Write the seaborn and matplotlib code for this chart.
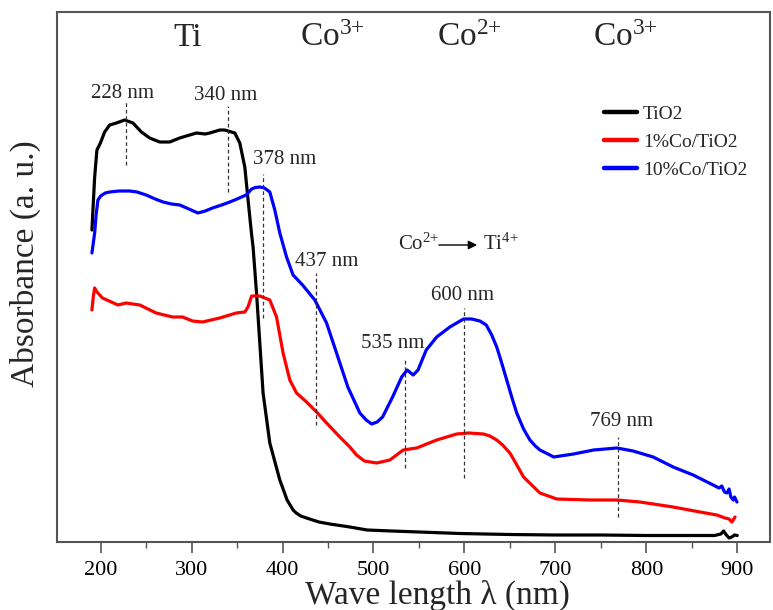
import matplotlib
matplotlib.use("Agg")
import matplotlib.pyplot as plt
import seaborn as sns
import pandas as pd
from matplotlib.ticker import MultipleLocator

# UV-Vis diffuse reflectance spectra (absorbance, arbitrary units)
wl_tio2 = [190.4, 193.4, 195.9, 199.7, 204.4, 209.9, 217.3, 226.4, 235.5, 244.8,
           253.9, 264.9, 275.9, 286.9, 305.3, 315, 320, 331, 336, 340.1, 347.5,
           353, 358.5, 362.1, 365.8, 367.6, 371.4, 375, 378.6, 386, 397, 405,
           411.6, 415, 420, 426.4, 440, 452, 474, 493, 520, 550, 595, 650, 700, 750,
           800, 850, 875, 882, 885, 888, 891, 894, 897, 900]
abs_tio2 = [3.12, 3.65, 3.92, 3.99, 4.10, 4.17, 4.19, 4.22, 4.19, 4.10,
            4.04, 4.00, 4.00, 4.04, 4.09, 4.08, 4.09, 4.12, 4.12, 4.11, 4.09,
            3.99, 3.75, 3.42, 3.09, 2.95, 2.49, 1.99, 1.49, 0.99, 0.62, 0.42,
            0.32, 0.29, 0.26, 0.24, 0.20, 0.18, 0.15, 0.12, 0.11, 0.10, 0.085, 0.075,
            0.07, 0.07, 0.065, 0.065, 0.065, 0.08, 0.11, 0.07, 0.04, 0.05, 0.07, 0.065]

wl_co1 = [190.4, 192, 193.4, 195, 197, 202, 211.8, 219, 228, 243, 261, 279, 290,
          301, 312, 331, 349, 358.5, 362, 366, 375, 386, 393.4, 400.6, 408,
          415.4, 426.4, 437.4, 448.4, 463, 474, 481.4, 490, 503.4, 518, 532.7,
          540, 547.5, 569.5, 591.5, 605, 620.8, 628, 635.5, 642, 650, 657, 665,
          683, 701.5, 738, 767.6, 793, 829.5, 859, 877.5, 886.6, 891, 894, 897.6]
abs_co1 = [2.32, 2.46, 2.54, 2.51, 2.49, 2.44, 2.40, 2.37, 2.39, 2.37, 2.29, 2.25,
           2.25, 2.21, 2.20, 2.24, 2.29, 2.30, 2.35, 2.46, 2.46, 2.42, 2.25, 1.89,
           1.62, 1.49, 1.40, 1.30, 1.19, 1.05, 0.95, 0.87, 0.81, 0.79, 0.82, 0.92,
           0.93, 0.94, 1.02, 1.08, 1.09, 1.08, 1.06, 1.02, 0.97, 0.89, 0.78, 0.65,
           0.49, 0.43, 0.42, 0.42, 0.40, 0.35, 0.30, 0.27, 0.24, 0.23, 0.20, 0.25]

wl_co10 = [190.4, 193.4, 195, 197, 200, 205, 210, 220, 232, 240, 250, 260, 268.6,
           278, 287, 297, 307, 315, 323, 333, 342, 350, 360, 366, 370, 375, 380,
           386, 391.5, 397, 404.4, 411.6, 422, 435.5, 448.4, 459.4, 471.8, 485,
           492, 498, 504, 510, 521, 531, 537, 543.7, 549, 558, 569.5, 584, 599,
           608, 617, 624, 630, 635.5, 640, 646.5, 652, 657.5, 665, 672, 678, 683,
           694, 698, 720, 742, 767.6, 785.5, 807.5, 829.5, 851.5, 873.5, 880, 883,
           886, 888.6, 891, 893, 895.6, 897, 899.7]
abs_co10 = [2.89, 3.09, 3.27, 3.42, 3.46, 3.49, 3.50, 3.51, 3.51, 3.50, 3.47, 3.43,
            3.40, 3.38, 3.37, 3.33, 3.29, 3.31, 3.34, 3.37, 3.40, 3.43, 3.47, 3.53,
            3.545, 3.55, 3.54, 3.50, 3.32, 3.09, 2.85, 2.67, 2.57, 2.42, 2.19, 1.89,
            1.55, 1.29, 1.22, 1.18, 1.20, 1.25, 1.45, 1.65, 1.72, 1.67, 1.72, 1.92,
            2.05, 2.15, 2.23, 2.23, 2.21, 2.17, 2.07, 1.95, 1.82, 1.62, 1.45, 1.29,
            1.13, 1.02, 0.96, 0.92, 0.87, 0.85, 0.88, 0.92, 0.94, 0.91, 0.85, 0.75,
            0.67, 0.57, 0.54, 0.56, 0.50, 0.49, 0.53, 0.45, 0.42, 0.45, 0.40]

series_names = ["TiO2", "1%Co/TiO2", "10%Co/TiO2"]
series_colors = ["#000000", "#ff0000", "#0000ff"]

# Band positions marked with dashed guides: wavelength, guide bottom/top, label position
peak_nm = [228, 340, 378, 437, 535, 600, 769]
peak_lo = [3.77, 3.50, 2.24, 1.17, 0.74, 0.64, 0.25]
peak_hi = [4.41, 4.36, 3.68, 2.69, 1.84, 2.34, 1.05]
peak_lbl_x = [224, 337.6, 402.5, 448.7, 521.4, 598.4, 772.3]
peak_lbl_y = [4.49, 4.46, 3.82, 2.80, 1.99, 2.46, 1.21]

# Region labels along the top
region_labels = ["Ti", "Co$\\mathregular{^{3{+}}}$", "Co$\\mathregular{^{2{+}}}$",
                 "Co$\\mathregular{^{3{+}}}$"]
region_x = [295.8, 455, 606, 776.7]

df = pd.concat([
    pd.DataFrame({"wl": wl_tio2, "A": abs_tio2, "sample": series_names[0]}),
    pd.DataFrame({"wl": wl_co1, "A": abs_co1, "sample": series_names[1]}),
    pd.DataFrame({"wl": wl_co10, "A": abs_co10, "sample": series_names[2]}),
], ignore_index=True)

sns.set_style("white")
plt.rcParams["font.family"] = ["Liberation Serif", "DejaVu Serif"]
plt.rcParams["mathtext.fontset"] = "custom"
plt.rcParams["mathtext.rm"] = "Liberation Serif"
plt.rcParams["lines.solid_joinstyle"] = "round"
plt.rcParams["lines.solid_capstyle"] = "round"

fig = plt.figure(figsize=(7.73, 6.10), dpi=100)
ax = fig.add_axes([57 / 773, 1 - 542 / 610, 713 / 773, 530 / 610])

sns.lineplot(data=df, x="wl", y="A", hue="sample", hue_order=series_names,
             palette=series_colors, estimator=None, sort=False, linewidth=2.3,
             ax=ax, legend=False)

for x, lo, hi in zip(peak_nm, peak_lo, peak_hi):
    ax.plot([x, x], [lo, hi], color="#333333", lw=0.9, ls=(0, (3, 2.2)))
for x, lx, ly in zip(peak_nm, peak_lbl_x, peak_lbl_y):
    ax.text(lx, ly, f"{x} nm", ha="center", va="center", fontsize=15)

for lbl, x in zip(region_labels, region_x):
    ax.text(x, 5.04, lbl, ha="center", va="center", fontsize=24)

# Charge transfer annotation
ax.text(526.9, 2.92, "Co$\\mathregular{^{2{+}}}$", ha="left", va="baseline", fontsize=15)
ax.text(620.4, 2.92, "Ti$\\mathregular{^{4{+}}}$", ha="left", va="baseline", fontsize=15)
ax.annotate("", xy=(614, 2.97), xytext=(572, 2.97),
            arrowprops=dict(arrowstyle="-|>", lw=1.0, color="black",
                            mutation_scale=13, shrinkA=0, shrinkB=0))

ax.set_xlim(152, 936)
ax.set_ylim(0, 5.30)
ax.xaxis.set_major_locator(MultipleLocator(100))
ax.xaxis.set_minor_locator(MultipleLocator(50))
ax.set_yticks([])
ax.tick_params(axis="x", which="major", direction="out", length=8, width=1.2,
               color="#555555", labelsize=16, labelcolor="black", pad=6)
ax.tick_params(axis="x", which="minor", direction="out", length=4, width=1.0,
               color="#555555")
ax.tick_params(bottom=True, top=False, left=False, right=False, which="both")
for sp in ax.spines.values():
    sp.set_color("#555555")
    sp.set_linewidth(1.5)
    sp.set_visible(True)

ax.set_xlabel("Wave length λ (nm)", fontsize=24)
ax.set_ylabel("Absorbance (a. u.)", fontsize=24)
ax.xaxis.set_label_coords(0.534, -0.072)
ax.yaxis.set_label_coords(-0.022, 0.525)

handles = [plt.Line2D([], [], color=c, lw=3.2) for c in series_colors]
ax.legend(handles, series_names, loc="upper left",
          bbox_to_anchor=((604 - 57) / 713, (542 - 105) / 530),
          frameon=False, fontsize=14, handlelength=1.7, handletextpad=0.3,
          labelspacing=0.55, borderpad=0, borderaxespad=0)

fig.savefig("out.png", dpi=100)
